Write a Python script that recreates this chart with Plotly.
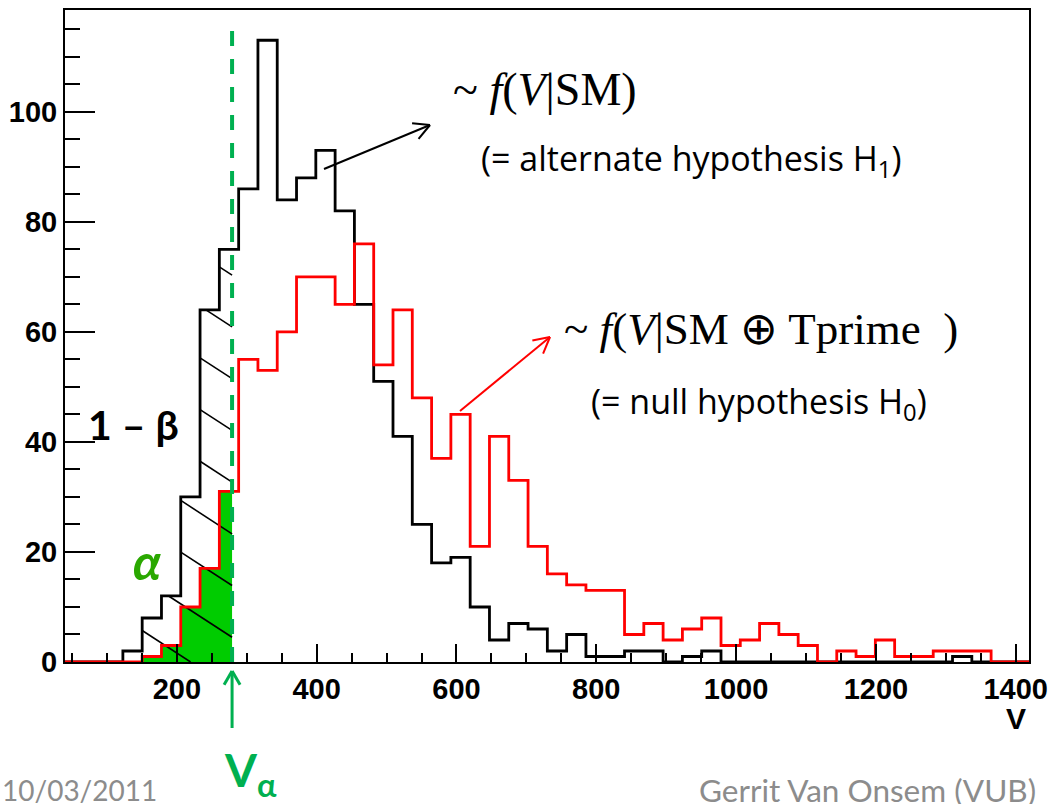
import plotly.graph_objects as go
import numpy as np

# ---------------- data ----------------
bin_lo = 40.0
bin_w = 27.6
n_bins = 50
edges = [bin_lo + i * bin_w for i in range(n_bins + 1)]

# f(V | SM)  -> alternate hypothesis H1 (black)
sm_counts = [0, 0, 0, 2, 8, 12, 30, 64, 75, 86,
             113, 84, 88, 93, 82, 65, 51, 41, 25, 18,
             19, 10, 4, 7, 6, 2, 5, 1, 1, 2,
             2, 0, 1, 2, 0, 0, 0, 0, 0, 0,
             0, 0, 0, 0, 0, 0, 1, 0, 0, 0]

# f(V | SM + Tprime) -> null hypothesis H0 (red)
tp_counts = [0, 0, 0, 0, 1, 3, 10, 17, 31, 55,
             53, 60, 70, 70, 65, 76, 54, 64, 48, 37,
             45, 21, 41, 33, 21, 16, 14, 13, 13, 5,
             7, 4, 6, 8, 3, 4, 7, 5, 3, 0,
             2, 1, 4, 1, 1, 2, 2, 2, 0, 0]

v_alpha = 279.0
x_ticks = [200, 400, 600, 800, 1000, 1200, 1400]
y_ticks = [0, 20, 40, 60, 80, 100]

# ---------------- geometry helpers ----------------
W, H = 1049, 804
L, R, T, B = 65, 1029, 10, 662
XR = [40, 1419]
YR = [0, 118.5]


def xp(px):
    return (px - L) / (R - L)


def yp(py):
    return (B - py) / (B - T)


def data_to_px(x, y):
    return (L + (x - XR[0]) / (XR[1] - XR[0]) * (R - L),
            B - (y - YR[0]) / (YR[1] - YR[0]) * (B - T))


def step_xy(counts):
    return edges, list(counts) + [counts[-1]]


def hist_value(counts, x):
    i = int(np.floor((x - bin_lo) / bin_w))
    if 0 <= i < n_bins:
        return counts[i]
    return 0


fig = go.Figure()

# green alpha region under red curve up to V_alpha
gx, gy = [], []
for i in range(n_bins):
    if edges[i] >= v_alpha:
        break
    if tp_counts[i] > 0 or gx:
        gx.append(edges[i])
        gy.append(tp_counts[i])
gx.append(v_alpha)
gy.append(gy[-1])
fig.add_trace(go.Scatter(x=gx, y=gy, mode="lines", line=dict(width=0, shape="hv"),
                         fill="tozeroy", fillcolor="#00cc00", hoverinfo="skip",
                         showlegend=False))

# hatch (1 - beta) under black curve, left of V_alpha
k = 0.65 * ((R - L) / (XR[1] - XR[0])) / ((B - T) / (YR[1] - YR[0]))
hx, hy = [], []
for c in [4.5 + 9.4 * i for i in range(-1, 8)]:
    xs = np.arange(edges[3], v_alpha + 0.01, 0.2)
    inside = []
    for x in xs:
        v = c + k * (v_alpha - x)
        if 0 <= v <= hist_value(sm_counts, x):
            inside.append(x)
    if len(inside) > 2:
        x0, x1 = min(inside), max(inside)
        hx += [x0, x1, None]
        hy += [c + k * (v_alpha - x0), c + k * (v_alpha - x1), None]
fig.add_trace(go.Scatter(x=hx, y=hy, mode="lines", line=dict(color="black", width=1.6),
                         hoverinfo="skip", showlegend=False))

# histograms
bx, by = step_xy(sm_counts)
fig.add_trace(go.Scatter(x=bx, y=by, mode="lines", line=dict(color="black", width=2.8, shape="hv"),
                         showlegend=False))
rx, ry = step_xy(tp_counts)
fig.add_trace(go.Scatter(x=rx, y=ry, mode="lines", line=dict(color="#ff0000", width=2.8, shape="hv"),
                         showlegend=False))

shapes = []
# V_alpha dashed line
shapes.append(dict(type="line", xref="x", yref="y", x0=v_alpha, x1=v_alpha, y0=0, y1=116.9,
                   line=dict(color="#00b050", width=4, dash="15px,13px")))


def arrow(x0, y0, x1, y1, color, width, head=18, ang=28):
    out = []
    out.append(dict(type="line", xref="paper", yref="paper", x0=xp(x0), y0=yp(y0),
                    x1=xp(x1), y1=yp(y1), line=dict(color=color, width=width)))
    th = np.arctan2(y1 - y0, x1 - x0)
    for s in (1, -1):
        a = th + np.pi - s * np.radians(ang)
        hx_ = x1 + head * np.cos(a)
        hy_ = y1 + head * np.sin(a)
        out.append(dict(type="line", xref="paper", yref="paper", x0=xp(x1), y0=yp(y1),
                        x1=xp(hx_), y1=yp(hy_), line=dict(color=color, width=width)))
    return out


shapes += arrow(324, 169, 430, 125, "black", 2)
shapes += arrow(460, 411, 550, 337, "#ff0000", 2)
va_px = data_to_px(v_alpha, 0)[0]
shapes += arrow(va_px, 728, va_px, 671, "#00b050", 3, head=16, ang=30)

ann = []
serif = "Liberation Serif"
calib = "Lato"
sans2 = "Open Sans"
ann.append(dict(x=xp(545), y=yp(90), text="~ <i>f</i>(<i>V</i>|SM)",
                font=dict(family=serif, size=46, color="black")))
ann.append(dict(x=xp(691), y=yp(160), text="(= alternate hypothesis H<sub>1</sub>)",
                font=dict(family=sans2, size=34, color="black")))
ann.append(dict(x=xp(761), y=yp(329), text="~ <i>f</i>(<i>V</i>|SM ⊕ Tprime  )",
                font=dict(family=serif, size=45, color="black")))
ann.append(dict(x=xp(759), y=yp(403), text="(= null hypothesis H<sub>0</sub>)",
                font=dict(family=sans2, size=34, color="black")))
ann.append(dict(x=xp(133), y=yp(424), text="1 – β",
                font=dict(family=calib, size=41, color="black", weight="bold")))
ann.append(dict(x=xp(147), y=yp(561), text="<i>α</i>",
                font=dict(family=calib, size=50, color="#2aa800", weight="bold")))
ann.append(dict(x=xp(222), y=yp(773), text="V<sub>α</sub>", xanchor="left",
                font=dict(family=calib, size=46, color="#00b050", weight="bold")))
ann.append(dict(x=xp(0), y=yp(790), text="10/03/2011", xanchor="left",
                font=dict(family=calib, size=28, color="#8c8c8c")))
ann.append(dict(x=xp(697), y=yp(790), text="Gerrit Van Onsem (VUB)", xanchor="left",
                font=dict(family=calib, size=31.5, color="#8c8c8c")))
ann.append(dict(x=xp(1016), y=yp(718), text="V",
                font=dict(family="Liberation Sans", size=30, color="black", weight="bold")))
for a in ann:
    a.update(xref="paper", yref="paper", showarrow=False)
    a.setdefault("xanchor", "center")
    a.setdefault("yanchor", "middle")

tickfont = dict(family="Liberation Sans", size=29, color="black", weight="bold")
fig.update_layout(
    width=W, height=H,
    margin=dict(l=L, r=W - R, t=T, b=H - B, autoexpand=False),
    paper_bgcolor="white", plot_bgcolor="white",
    shapes=shapes, annotations=ann,
    xaxis=dict(range=XR, showgrid=False, zeroline=False, showline=True, linecolor="black",
               linewidth=2, mirror=True, ticks="inside", ticklen=18, tickwidth=1.8,
               tickcolor="black", tickvals=x_ticks, ticktext=[str(t) for t in x_ticks],
               tickfont=tickfont, automargin=False, ticklabeloverflow="allow",
               minor=dict(ticks="inside", ticklen=9, tickwidth=1.5, tickcolor="black",
                          tick0=0, dtick=50)),
    yaxis=dict(range=YR, showgrid=False, zeroline=False, showline=True, linecolor="black",
               linewidth=2, mirror=True, ticks="inside", ticklen=30, tickwidth=1.8,
               tickcolor="black", tickvals=y_ticks, ticktext=[str(t) for t in y_ticks],
               tickfont=tickfont, automargin=False, ticklabeloverflow="allow",
               minor=dict(ticks="inside", ticklen=15, tickwidth=1.5, tickcolor="black",
                          tick0=0, dtick=5)),
)

fig.write_html("out.html")
